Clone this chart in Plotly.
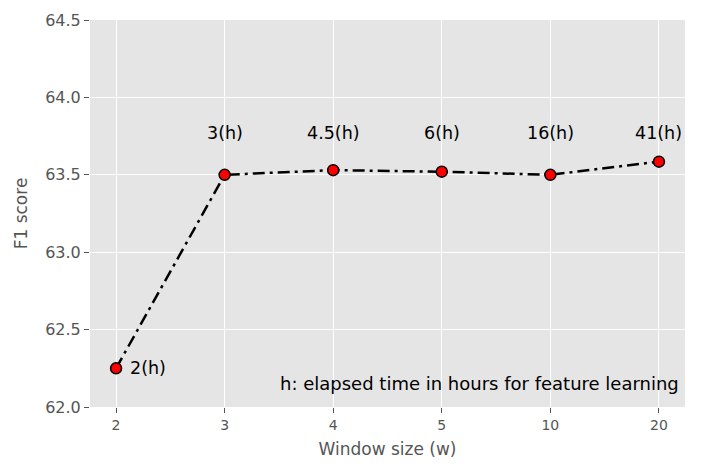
import plotly.graph_objects as go

# window sizes (categorical x) and F1 scores
window_sizes = ['2', '3', '4', '5', '10', '20']
f1_scores = [62.25, 63.50, 63.53, 63.52, 63.50, 63.585]
hours = ['2(h)', '3(h)', '4.5(h)', '6(h)', '16(h)', '41(h)']
label_y = 63.77  # height of the elapsed-time labels (except the first one)

fig = go.Figure()

fig.add_trace(go.Scatter(
    x=window_sizes, y=f1_scores, mode='lines+markers',
    line=dict(color='black', width=2.5, dash='12px,5px,3px,5px'),
    marker=dict(size=11, color='red', line=dict(color='black', width=1.5)),
    showlegend=False,
))

# elapsed-time labels (category axis -> use the index as x)
for i, (s, h) in enumerate(zip(f1_scores, hours)):
    if i == 0:
        fig.add_annotation(x=i, y=s, text=h, showarrow=False, xanchor='left',
                           yanchor='middle', xshift=12,
                           font=dict(size=17.5, color='black'))
    else:
        fig.add_annotation(x=i, y=label_y, text=h, showarrow=False,
                           xanchor='center', yanchor='middle',
                           font=dict(size=17.5, color='black'))

fig.add_annotation(xref='paper', yref='paper', x=0.993, y=0.062,
                   text='h: elapsed time in hours for feature learning',
                   showarrow=False, xanchor='right', yanchor='middle',
                   font=dict(size=18, color='black'))

fig.update_layout(
    width=705, height=471,
    margin=dict(l=90, r=20, t=20, b=64, autoexpand=False),
    plot_bgcolor='#e5e5e5', paper_bgcolor='white',
    font=dict(family='DejaVu Sans', color='#555555'),
)

fig.update_xaxes(
    type='category', range=[-0.24, 5.24],
    showgrid=True, gridcolor='white', gridwidth=1.2,
    ticks='outside', ticklen=5, tickcolor='#555555',
    tickfont=dict(size=14, color='#555555'),
    title=dict(text='Window size (w)', font=dict(size=17, color='#555555'), standoff=11),
    zeroline=False,
)
fig.update_yaxes(
    range=[62.0, 64.5], dtick=0.5, tickformat='.1f',
    showgrid=True, gridcolor='white', gridwidth=1.2,
    ticks='outside', ticklen=5, tickcolor='#555555',
    tickfont=dict(size=16, color='#555555'),
    title=dict(text='F1 score', font=dict(size=17, color='#555555'), standoff=13),
    zeroline=False,
)

fig.write_html("out.html", config={'displayModeBar': False},
               post_script="document.body.style.margin='0';")
